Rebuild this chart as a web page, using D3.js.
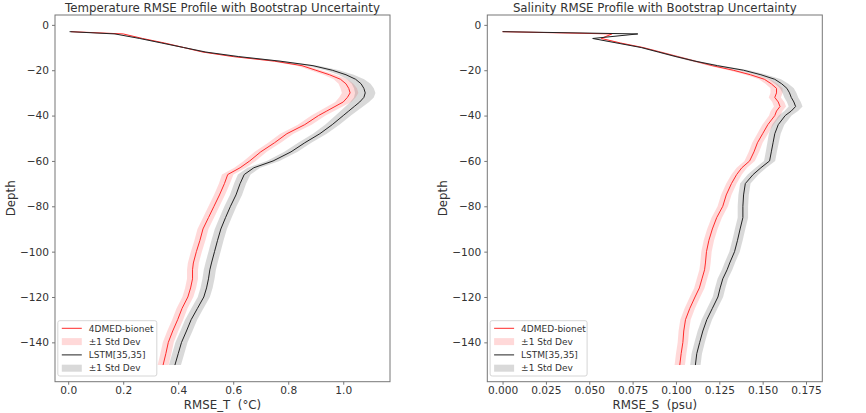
<!DOCTYPE html>
<html><head><meta charset="utf-8">
<script src="https://cdn.jsdelivr.net/npm/d3@7"></script>
<style>body{margin:0;background:#fff}svg{display:block}text{font-family:"DejaVu Sans",sans-serif;fill:#333}</style>
</head><body><svg id="c" width="866" height="413"></svg>
<script>
const depths = [-3,-4,-6,-8,-10,-12,-14,-16,-18,-20,-22,-24,-26,-28,-30,-32,-34,-36,-38,-40,-44,-48,-52,-56,-60,-63,-66,-70,-75,-80,-85,-90,-95,-100,-105,-108,-112,-116,-120,-125,-130,-135,-140,-145,-150];

const tempBionet = [0.01,0.20,0.27,0.35,0.42,0.49,0.60,0.75,0.85,0.90,0.95,0.99,1.01,1.02,1.025,1.015,1.00,0.97,0.94,0.91,0.86,0.795,0.75,0.70,0.66,0.625,0.58,0.568,0.55,0.53,0.51,0.49,0.479,0.466,0.455,0.452,0.452,0.445,0.435,0.414,0.398,0.38,0.364,0.355,0.345];
const tempBionetStd = [0.002,0.004,0.006,0.008,0.01,0.012,0.014,0.016,0.018,0.02,0.022,0.025,0.027,0.03,0.03,0.03,0.029,0.028,0.027,0.026,0.025,0.024,0.023,0.022,0.022,0.021,0.021,0.02,0.02,0.02,0.02,0.02,0.02,0.02,0.02,0.02,0.02,0.02,0.02,0.02,0.02,0.02,0.02,0.02,0.02];
const tempLstm = [0.005,0.17,0.26,0.34,0.42,0.50,0.62,0.77,0.89,0.96,1.01,1.045,1.065,1.075,1.08,1.075,1.06,1.04,1.02,1.00,0.96,0.915,0.86,0.81,0.745,0.675,0.64,0.625,0.61,0.59,0.572,0.555,0.543,0.532,0.521,0.515,0.51,0.503,0.493,0.47,0.447,0.43,0.412,0.40,0.388];
const tempLstmStd = [0.002,0.004,0.006,0.008,0.01,0.012,0.015,0.018,0.021,0.025,0.028,0.031,0.034,0.036,0.037,0.036,0.034,0.032,0.03,0.028,0.026,0.025,0.024,0.024,0.023,0.023,0.023,0.022,0.022,0.022,0.022,0.022,0.022,0.022,0.022,0.022,0.022,0.022,0.022,0.022,0.022,0.022,0.022,0.022,0.022];

const salBionet = [0.0,0.063,0.057,0.068,0.081,0.091,0.101,0.111,0.121,0.133,0.143,0.151,0.155,0.158,0.158,0.157,0.159,0.160,0.158,0.157,0.153,0.150,0.147,0.145,0.1425,0.138,0.135,0.132,0.129,0.127,0.1235,0.121,0.119,0.1176,0.117,0.1165,0.115,0.1135,0.111,0.108,0.1055,0.1045,0.104,0.103,0.1022];
const salBionetStd = [0.0003,0.0008,0.001,0.0012,0.0015,0.0018,0.002,0.0022,0.0025,0.0028,0.003,0.0032,0.0034,0.0035,0.0035,0.0035,0.0035,0.0035,0.0034,0.0033,0.0032,0.0031,0.003,0.003,0.003,0.003,0.003,0.003,0.003,0.003,0.003,0.003,0.003,0.003,0.003,0.003,0.003,0.003,0.003,0.003,0.003,0.003,0.003,0.003,0.003];
const salLstm = [0.0,0.078,0.052,0.066,0.080,0.090,0.100,0.111,0.124,0.139,0.149,0.157,0.161,0.164,0.1655,0.1665,0.168,0.169,0.1665,0.163,0.159,0.157,0.156,0.155,0.154,0.149,0.1445,0.140,0.139,0.1386,0.1386,0.137,0.1355,0.1338,0.131,0.1295,0.127,0.1255,0.1242,0.121,0.1178,0.1155,0.1137,0.112,0.1112];
const salLstmStd = [0.0003,0.0008,0.001,0.0012,0.0015,0.0018,0.002,0.0023,0.0026,0.003,0.0033,0.0036,0.0038,0.004,0.004,0.004,0.004,0.004,0.0039,0.0037,0.0035,0.0034,0.0033,0.0032,0.0032,0.0031,0.0031,0.003,0.003,0.003,0.003,0.003,0.003,0.003,0.003,0.003,0.003,0.003,0.003,0.003,0.003,0.003,0.003,0.003,0.003];

const depthTicks = [-140,-120,-100,-80,-60,-40,-20,0];
const tempTicks = [0.0,0.2,0.4,0.6,0.8,1.0];
const salTicks = [0.000,0.025,0.050,0.075,0.100,0.125,0.150,0.175];
const legendLabels = ["4DMED-bionet","±1 Std Dev","LSTM[35,35]","±1 Std Dev"];

(function(){
const panels = [
  {title:"Temperature RMSE Profile with Bootstrap Uncertainty", xlabel:"RMSE_T  (°C)", x0:55, x1:390, dom:[-0.048,1.170], ticks:tempTicks, fmt:d3.format(".1f"), a:tempBionet, as:tempBionetStd, b:tempLstm, bs:tempLstmStd},
  {title:"Salinity RMSE Profile with Bootstrap Uncertainty", xlabel:"RMSE_S  (psu)", x0:487.3, x1:822.3, dom:[-0.0088,0.1844], ticks:salTicks, fmt:d3.format(".3f"), a:salBionet, as:salBionetStd, b:salLstm, bs:salLstmStd}
];
const pTop=15, pBottom=381.7;
const svg = d3.select("#c");
svg.append("rect").attr("width",866).attr("height",413).attr("fill","#fff");
const y = d3.scaleLinear().domain([-157.35,4.35]).range([pBottom,pTop]);

panels.forEach(p=>{
  const x = d3.scaleLinear().domain(p.dom).range([p.x0,p.x1]);
  const g = svg.append("g");
  const idx = d3.range(depths.length);
  const area = (v,s)=>d3.area().y(i=>y(depths[i])).x0(i=>x(v[i]-s[i])).x1(i=>x(v[i]+s[i]));
  const line = v=>d3.line().x(i=>x(v[i])).y(i=>y(depths[i]));
  g.append("path").attr("d",area(p.a,p.as)(idx)).attr("fill","red").attr("fill-opacity",0.15);
  g.append("path").attr("d",line(p.a)(idx)).attr("fill","none").attr("stroke","#ff2a2a").attr("stroke-width",1);
  g.append("path").attr("d",area(p.b,p.bs)(idx)).attr("fill","gray").attr("fill-opacity",0.3);
  g.append("path").attr("d",line(p.b)(idx)).attr("fill","none").attr("stroke","#222").attr("stroke-width",1);

  svg.append("rect").attr("x",p.x0).attr("y",pTop).attr("width",p.x1-p.x0).attr("height",pBottom-pTop)
    .attr("fill","none").attr("stroke","#777").attr("stroke-width",1);
  const xa = svg.append("g").attr("transform",`translate(0,${pBottom})`)
    .call(d3.axisBottom(x).tickValues(p.ticks).tickFormat(p.fmt).tickSize(3).tickPadding(2));
  xa.select(".domain").remove();
  xa.selectAll("line").attr("stroke","#777");
  xa.selectAll("text").style("font-size","10.6px").attr("fill","#333");
  const ya = svg.append("g").attr("transform",`translate(${p.x0},0)`)
    .call(d3.axisLeft(y).tickValues(depthTicks).tickFormat(d3.format("d")).tickSize(3).tickPadding(3));
  ya.select(".domain").remove();
  ya.selectAll("line").attr("stroke","#777");
  ya.selectAll("text").style("font-size","10.6px").attr("fill","#333");

  const cx=(p.x0+p.x1)/2;
  svg.append("text").attr("x",cx).attr("y",11.5).attr("text-anchor","middle").style("font-size","11.8px").text(p.title);
  svg.append("text").attr("x",cx).attr("y",408.5).attr("text-anchor","middle").style("font-size","11.8px").style("white-space","pre").text(p.xlabel);
  svg.append("text").attr("transform",`translate(${p.x0-40},${(pTop+pBottom)/2}) rotate(-90)`).attr("text-anchor","middle").style("font-size","11.8px").text("Depth");

  const lx=p.x0+2.8, ly=320.7, lw=p.x0===55?99:97;
  const lg = svg.append("g");
  lg.append("rect").attr("x",lx).attr("y",ly).attr("width",lw).attr("height",55.3).attr("rx",2)
    .attr("fill","#fff").attr("fill-opacity",0.8).attr("stroke","#ccc").attr("stroke-width",0.8);
  legendLabels.forEach((t,i)=>{
    const ry = ly+7.6+i*13.3;
    if(i===0) lg.append("line").attr("x1",lx+4).attr("x2",lx+24).attr("y1",ry).attr("y2",ry).attr("stroke","#ff2a2a").attr("stroke-width",1);
    if(i===2) lg.append("line").attr("x1",lx+4).attr("x2",lx+24).attr("y1",ry).attr("y2",ry).attr("stroke","#222").attr("stroke-width",1);
    if(i===1) lg.append("rect").attr("x",lx+4).attr("y",ry-3.5).attr("width",20).attr("height",7).attr("fill","red").attr("fill-opacity",0.15);
    if(i===3) lg.append("rect").attr("x",lx+4).attr("y",ry-3.5).attr("width",20).attr("height",7).attr("fill","gray").attr("fill-opacity",0.3);
    lg.append("text").attr("x",lx+31).attr("y",ry+3.2).style("font-size","9px").text(t);
  });
});
})();
</script></body></html>
